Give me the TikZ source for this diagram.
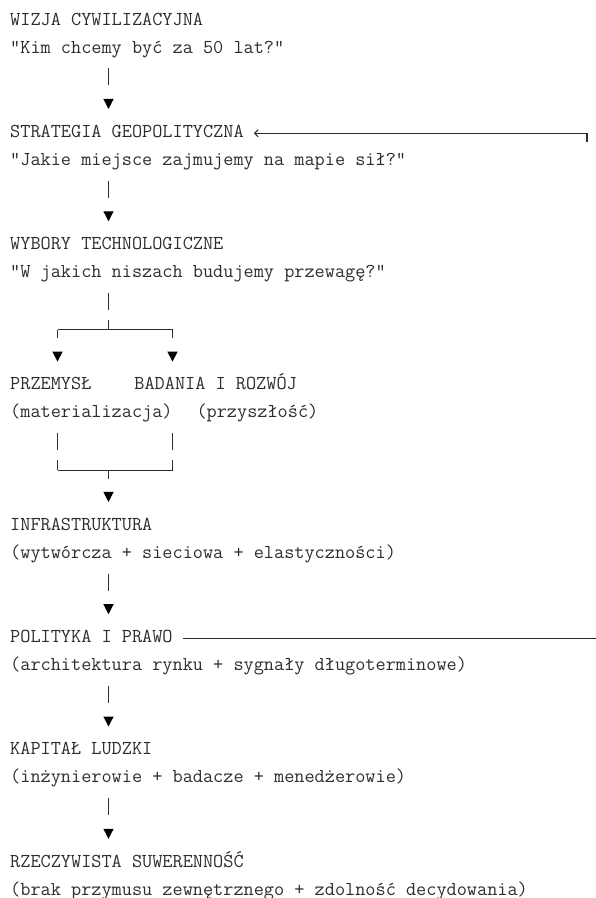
\documentclass[tikz,border=0pt]{standalone}
\usepackage{fontspec}
\usepackage{tikz}
\usetikzlibrary{arrows.meta,positioning}
\definecolor{ink}{RGB}{45,45,45}

\begin{document}
\begin{tikzpicture}[x=1pt,y=-1pt,
    row/.style={anchor=base west,inner sep=0pt,text height=12pt,text depth=4pt,
      text=ink,font=\ttfamily\fontsize{19.71}{22}\selectfont},
    wire/.style={draw=ink,line width=1.1pt},
    link/.style={wire,shorten <=11pt,shorten >=16.1pt,dash pattern=on 17pt off 100pt,
      -{Triangle[length=10pt,width=10pt,black]}},
    drop/.style={wire,shorten >=16.1pt,dash pattern=on 8.5pt off 100pt,
      -{Triangle[length=10pt,width=10pt,black]}},
    bar/.style={wire,shorten <=11pt,dash pattern=on 17pt off 10pt on 30pt off 100pt},
    fback/.style={wire,shorten >=10pt,-{Straight Barb[length=3.5pt,width=7pt]}}]
  \useasboundingbox (0,0) rectangle (596,898);
  \coordinate (axis) at (108.5,0);
  \coordinate (lcol) at (57.5,0);
  \coordinate (rcol) at (172.5,0);
            \node[row] (wizja) at (10,25.00) {WIZJA CYWILIZACYJNA};
            \node[row] (wizjaq) at (10,53.07) {"Kim chcemy być za 50 lat?"};
            \node[row] (strat) at (10,137.28) {STRATEGIA GEOPOLITYCZNA};
            \node[row] (stratq) at (10,165.35) {"Jakie miejsce zajmujemy na mapie sił?"};
            \node[row] (wybory) at (10,249.56) {WYBORY TECHNOLOGICZNE};
            \node[row] (wyboryq) at (10,277.63) {"W jakich niszach budujemy przewagę?"};
            \node[row] (przem) at (10,389.91) {PRZEMYSŁ};
            \node[row] (badania) at (134.2,389.91) {BADANIA I ROZWÓJ};
            \node[row] (przemq) at (10,417.98) {(materializacja)};
            \node[row] (badaniaq) at (196.3,417.98) {(przyszłość)};
            \node[row] (infra) at (10,530.26) {INFRASTRUKTURA};
            \node[row] (infraq) at (10,558.33) {(wytwórcza + sieciowa + elastyczności)};
            \node[row] (polityka) at (10,642.54) {POLITYKA I PRAWO};
            \node[row] (politykaq) at (10,670.61) {(architektura rynku + sygnały długoterminowe)};
            \node[row] (kapital) at (10,754.82) {KAPITAŁ LUDZKI};
            \node[row] (kapitalq) at (10,782.89) {(inżynierowie + badacze + menedżerowie)};
            \node[row] (suwer) at (10,867.10) {RZECZYWISTA SUWERENNOŚĆ};
            \node[row] (suwerq) at (10,895.17) {(brak przymusu zewnętrznego + zdolność decydowania)};
  % main column
  \draw[link] (wizjaq.south -| axis) -- (strat.north -| axis);
  \draw[link] (stratq.south -| axis) -- (wybory.north -| axis);
  \draw[link] (infraq.south -| axis) -- (polityka.north -| axis);
  \draw[link] (politykaq.south -| axis) -- (kapital.north -| axis);
  \draw[link] (kapitalq.south -| axis) -- (suwer.north -| axis);
  % split
  \coordinate (split) at (108.5,329.8);
  \coordinate (lsplit) at (57.5,329.8);
  \coordinate (rsplit) at (172.5,329.8);
  \draw[bar] (wyboryq.south -| axis) -- (split);
  \draw[wire] (lsplit) -- (rsplit);
  \draw[drop] (lsplit) -- (przem.north -| lsplit);
  \draw[drop] (rsplit) -- (badania.north -| rsplit);
  % merge
  \coordinate (join) at (108.5,470.1);
  \coordinate (ljoin) at (57.5,470.1);
  \coordinate (rjoin) at (172.5,470.1);
  \draw[bar] (przemq.south -| lcol) -- (ljoin);
  \draw[bar] (badaniaq.south -| rcol) -- (rjoin);
  \draw[wire] (ljoin) -- (rjoin);
  \draw[drop] (join) -- (infra.north -| axis);
  % feedback
  \coordinate (fbtick) at (587,141.5);
  \coordinate (fbtop) at (587,133.28);
  \coordinate (fbout) at (597,638.54);
  \draw[fback] (fbtick) -- (fbtop) -- (strat.east);
  \draw[wire,shorten <=10pt] (polityka.east) -- (fbout);
\end{tikzpicture}
\end{document}
